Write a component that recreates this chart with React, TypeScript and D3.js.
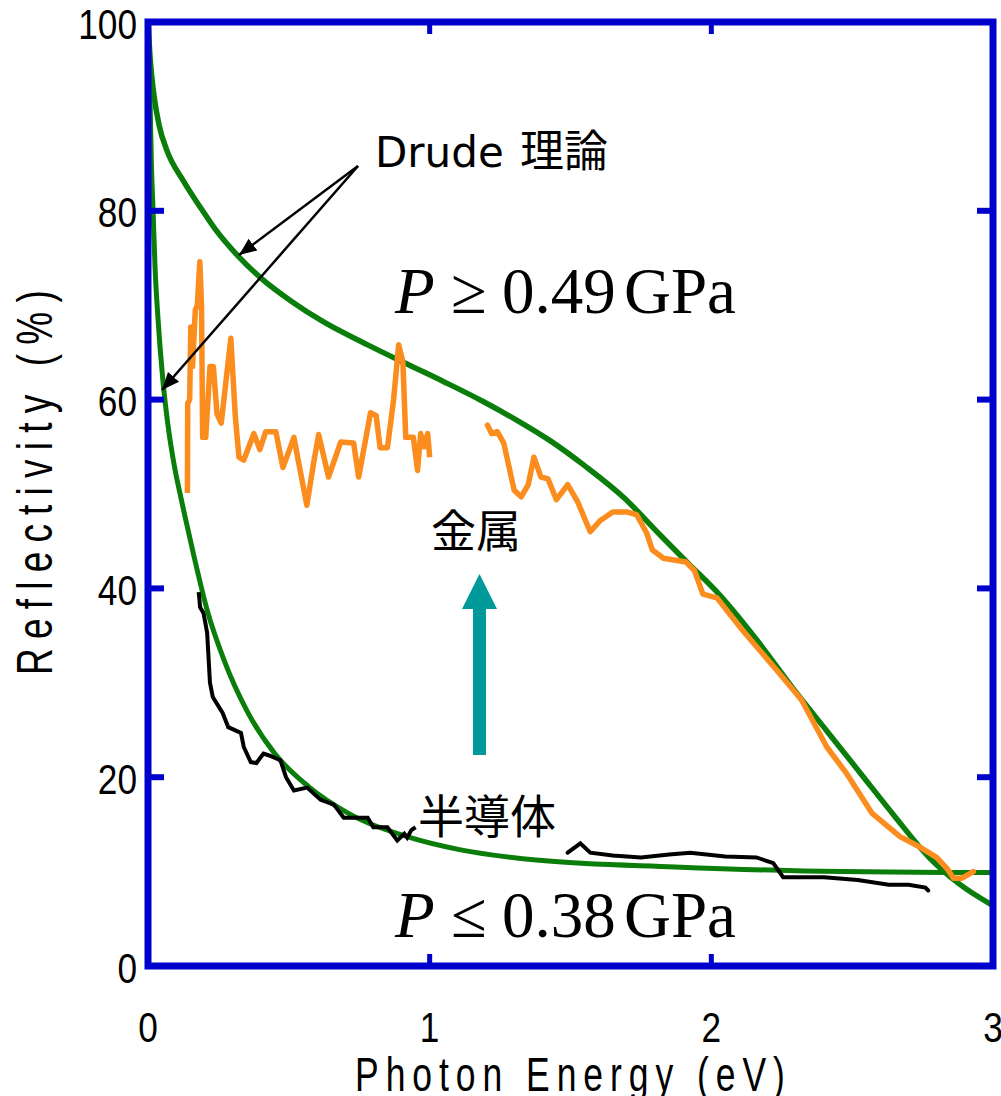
import React from 'react';
import * as d3 from 'd3';

// Drude fits
const drudeMetalE = [0, 0.008, 0.02, 0.04, 0.067, 0.125, 0.185, 0.24, 0.32, 0.4, 0.51, 0.625, 0.78, 0.91, 1.05, 1.19, 1.31, 1.43, 1.55, 1.69, 1.82, 1.92, 2.03, 2.16, 2.29, 2.41, 2.53, 2.65, 2.77, 2.88, 3.0];
const drudeMetalR = [100, 96, 92.5, 89, 86.4, 83.2, 80.4, 78.0, 75.2, 72.9, 70.4, 68.2, 65.8, 63.9, 61.9, 59.8, 57.8, 55.6, 53.0, 49.6, 45.6, 42.6, 39.3, 34.6, 29.4, 24.9, 20.4, 15.9, 11.6, 8.7, 6.4];
const drudeSemiE = [0, 0.005, 0.012, 0.018, 0.025, 0.035, 0.053, 0.07, 0.094, 0.114, 0.13, 0.164, 0.21, 0.27, 0.35, 0.45, 0.57, 0.71, 0.92, 1.11, 1.39, 1.87, 2.3, 3.0];
const drudeSemiR = [100, 95, 85, 80, 74, 68.8, 62, 57.5, 52.9, 50.0, 47.8, 43.3, 37.7, 32.4, 27.1, 22.5, 19.0, 16.2, 13.7, 12.3, 11.2, 10.5, 10.1, 9.9];

// metal (P >= 0.49 GPa), two measured segments
const metalE1 = [0.14, 0.141, 0.148, 0.152, 0.158, 0.168, 0.175, 0.184, 0.19, 0.194, 0.205, 0.22, 0.232, 0.245, 0.26, 0.294, 0.31, 0.323, 0.34, 0.376, 0.397, 0.418, 0.454, 0.479, 0.518, 0.535, 0.564, 0.588, 0.606, 0.641, 0.684, 0.73, 0.748, 0.79, 0.81, 0.824, 0.85, 0.872, 0.89, 0.905, 0.915, 0.942, 0.957, 0.968, 0.98, 0.993, 1.0];
const metalR1 = [50.1, 59.6, 60, 67.7, 63.5, 69.5, 70, 74.6, 70, 56.0, 56.0, 63.5, 63.5, 58.5, 57.5, 66.5, 58.2, 53.9, 53.6, 56.4, 54.7, 56.6, 56.6, 52.8, 56.0, 53.3, 48.8, 53.3, 56.3, 51.8, 55.5, 55.4, 51.8, 58.6, 58.3, 54.9, 54.9, 60.0, 65.8, 64, 56.0, 56.0, 52.5, 56.4, 55, 56.4, 53.9];
const metalE2 = [1.205, 1.22, 1.24, 1.263, 1.3, 1.325, 1.35, 1.37, 1.395, 1.42, 1.45, 1.49, 1.525, 1.57, 1.606, 1.65, 1.7, 1.735, 1.77, 1.79, 1.83, 1.91, 1.94, 1.97, 2.02, 2.11, 2.23, 2.32, 2.41, 2.48, 2.57, 2.67, 2.74, 2.8, 2.84, 2.86, 2.89, 2.93];
const metalR2 = [57.3, 56.4, 56.6, 55.4, 50.4, 49.7, 51, 53.9, 51.8, 51.6, 49.4, 51.0, 49.2, 46.0, 47.2, 48.1, 48.1, 47.8, 45.9, 44.1, 43.2, 42.8, 41.9, 39.4, 39.0, 35.6, 31.4, 28.2, 23.2, 20.4, 16.2, 13.7, 12.6, 11.5, 10.2, 9.3, 9.3, 10.0];

// semiconductor (P <= 0.38 GPa)
const semiE1 = [0.18, 0.185, 0.197, 0.21, 0.22, 0.23, 0.265, 0.285, 0.33, 0.34, 0.365, 0.385, 0.41, 0.43, 0.47, 0.49, 0.518, 0.565, 0.613, 0.66, 0.695, 0.78, 0.8, 0.85, 0.885, 0.91, 0.92, 0.935, 0.95];
const semiR1 = [39.6, 38.0, 37.4, 35.3, 30.0, 28.5, 26.8, 25.3, 24.7, 23.2, 21.6, 21.5, 22.5, 22.3, 21.8, 20.0, 18.6, 18.9, 17.6, 17.1, 15.7, 15.7, 14.7, 14.7, 13.3, 14.0, 13.6, 14.4, 14.7];
const semiE2 = [1.49, 1.535, 1.57, 1.65, 1.75, 1.85, 1.925, 2.05, 2.16, 2.22, 2.255, 2.4, 2.52, 2.63, 2.7, 2.76, 2.77];
const semiR2 = [12.0, 13.0, 12.0, 11.7, 11.5, 11.8, 12.0, 11.6, 11.5, 10.9, 9.4, 9.4, 9.1, 8.6, 8.6, 8.3, 8.0];

const xTicks = [0, 1, 2, 3];
const yTicks = [0, 20, 40, 60, 80, 100];

const zip = (e: number[], r: number[]) => e.map((v, i) => [v, r[i]] as [number, number]);

export default function App() {
  const x = d3.scaleLinear().domain([0, 3]).range([148, 993]);
  const y = d3.scaleLinear().domain([0, 100]).range([966, 22]);

  const smooth = d3.line<[number, number]>().x(d => x(d[0])).y(d => y(d[1])).curve(d3.curveMonotoneX);
  const raw = d3.line<[number, number]>().x(d => x(d[0])).y(d => y(d[1]));

  const sans = '"Liberation Sans", Arial, sans-serif';
  const serif = '"Liberation Serif", "Times New Roman", serif';
  const cjk = '"Noto Sans CJK JP", sans-serif';
  const blue = '#0000cc';

  // narrow digits for tick labels
  const narrow = (tx: number, ty: number, s: string, anchor: string, key: string) => (
    <text key={key} transform={`translate(${tx},${ty}) scale(0.84,1)`} textAnchor={anchor}
      fontFamily={sans} fontSize={42} dominantBaseline="central">{s}</text>
  );

  // P labels
  const pLabel = (base: number, op: string, val: string) => (
    <g fontFamily={serif} fontSize={65}>
      <text x={395} y={base} fontStyle="italic">P</text>
      <text x={451} y={base}>{op}</text>
      <text x={502} y={base}>{val}</text>
      <text x={624} y={base}>GPa</text>
    </g>
  );

  return (
    <svg width={1001} height={1096} style={{position: 'absolute', left: 0, top: 0}}>
      <rect width={1001} height={1096} fill="white" />
      <defs>
        <marker id="ah" viewBox="0 0 10 10" refX="10" refY="5" markerWidth="7" markerHeight="7"
          markerUnits="strokeWidth" orient="auto">
          <path d="M0,0.8 L10,5 L0,9.2 Z" fill="black" />
        </marker>
      </defs>

      {/* data lines */}
      <path d={smooth(zip(drudeSemiE, drudeSemiR))!} fill="none" stroke="#0a7d0a" strokeWidth={5} />
      <path d={smooth(zip(drudeMetalE, drudeMetalR))!} fill="none" stroke="#0a7d0a" strokeWidth={5.5} />
      <path d={raw(zip(metalE1, metalR1))!} fill="none" stroke="#fb8c1e" strokeWidth={5.5} strokeLinejoin="round" />
      <path d={raw(zip(metalE2, metalR2))!} fill="none" stroke="#fb8c1e" strokeWidth={5.5} strokeLinejoin="round" strokeLinecap="round" />
      <path d={raw(zip(semiE1, semiR1))!} fill="none" stroke="black" strokeWidth={4} />
      <path d={raw(zip(semiE2, semiR2))!} fill="none" stroke="black" strokeWidth={4} strokeLinecap="round" />

      {/* frame and ticks */}
      <rect x={x(0)} y={y(100)} width={x(3) - x(0)} height={y(0) - y(100)} fill="none" stroke={blue} strokeWidth={7} />
      {yTicks.slice(1, -1).map(t => (
        <g key={'yt' + t}>
          <line x1={x(0)} x2={x(0) + 16} y1={y(t)} y2={y(t)} stroke={blue} strokeWidth={6} />
          <line x1={x(3)} x2={x(3) - 16} y1={y(t)} y2={y(t)} stroke={blue} strokeWidth={6} />
        </g>
      ))}
      {xTicks.slice(1, -1).map(t => (
        <g key={'xt' + t}>
          <line x1={x(t)} x2={x(t)} y1={y(0)} y2={y(0) - 12} stroke={blue} strokeWidth={5} />
          <line x1={x(t)} x2={x(t)} y1={y(100)} y2={y(100) + 12} stroke={blue} strokeWidth={5} />
        </g>
      ))}

      {/* tick labels */}
      {yTicks.map(t => narrow(137, y(t) + 2, String(t), 'end', 'yl' + t))}
      {xTicks.map(t => narrow(x(t), 1027, String(t), 'middle', 'xl' + t))}

      {/* axis titles */}
      <text transform="translate(355,1091) scale(0.74,1)" textLength={581} lengthAdjust="spacing"
        fontFamily={sans} fontSize={48}>Photon Energy (eV)</text>
      <text transform="translate(52,675) rotate(-90) scale(0.74,1)" textLength={520} lengthAdjust="spacing"
        fontFamily={sans} fontSize={50}>Reflectivity (%)</text>

      {/* annotations */}
      <text x={375} y={167} fontFamily='"DejaVu Sans", sans-serif' fontSize={42}>Drude</text>
      <text x={520} y={167} fontFamily={cjk} fontSize={44}>理論</text>
      <line x1={358} y1={166} x2={239} y2={255} stroke="black" strokeWidth={2.5} markerEnd="url(#ah)" />
      <line x1={358} y1={166} x2={162} y2={390} stroke="black" strokeWidth={2.5} markerEnd="url(#ah)" />

      {pLabel(313, '≥', '0.49')}
      {pLabel(937, '≤', '0.38')}

      <text x={431} y={528} fontFamily={cjk} fontSize={45} dominantBaseline="central">金属</text>
      <text x={418} y={813} fontFamily={cjk} fontSize={46} dominantBaseline="central">半導体</text>

      {/* teal arrow */}
      <path d={`M473,755 L486,755 L486,609 L497,609 L479.5,574 L462,609 L473,609 Z`} fill="#009999" />
    </svg>
  );
}
